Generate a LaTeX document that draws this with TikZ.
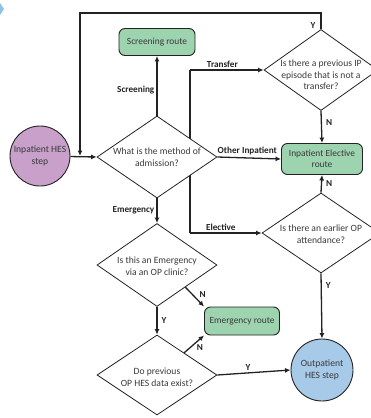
\documentclass[tikz,border=0pt]{standalone}
\usepackage{fontspec}
\setmainfont{Carlito}
\usepackage{tikz}
\usetikzlibrary{arrows.meta,positioning,calc,backgrounds,shapes.geometric}
\usepackage{xcolor}
\definecolor{routegreen}{HTML}{9DD3AE}
\definecolor{ipurple}{HTML}{C8A0CA}
\definecolor{opblue}{HTML}{A6CAE7}
\definecolor{edgegrey}{HTML}{222222}
\definecolor{txtgrey}{HTML}{3A3A3A}
\definecolor{cornerblue}{HTML}{8FC2E6}
\tikzset{
  decision/.style={diamond,draw=edgegrey,fill=white,inner sep=0pt,
    minimum width=120pt,minimum height=82pt,line width=0.8pt},
  qtext/.style={text=txtgrey,align=center,inner sep=0pt,
    font=\fontsize{9.6}{11.5}\selectfont},
  routebox/.style={rectangle,rounded corners=6pt,draw=edgegrey,fill=routegreen,
    text=txtgrey,align=center,inner sep=1pt,font=\fontsize{9.4}{11}\selectfont,
    line width=0.9pt},
  hesstep/.style={circle,draw=edgegrey,text=txtgrey,align=center,inner sep=0pt,
    font=\fontsize{9.6}{11.5}\selectfont,line width=0.9pt},
  flow/.style={-{Latex[length=5.5pt,width=5pt]},line width=1.3pt,color=edgegrey},
  flowline/.style={line width=1.3pt,color=edgegrey},
  lbl/.style={font=\fontsize{9.2}{10}\selectfont\bfseries,text=edgegrey,inner sep=2pt},
}

\begin{document}
\begin{tikzpicture}[x=1pt,y=-1pt]
  \useasboundingbox (0,0) rectangle (371,418);
  \fill[cornerblue] (0,3) -- (4,9) -- (0,15) -- cycle;

  \node[hesstep,fill=ipurple,minimum size=60pt] (ipstep) at (40,156) {Inpatient HES\\step};
  \node[decision,label={[qtext]center:{What is the method of\\admission?}}] (admit) at (157,157) {};
  \node[routebox,minimum width=76pt,minimum height=27pt] (screen) at (157,42) {Screening route};
  \node[decision,minimum width=114pt,minimum height=81pt,
    label={[qtext,yshift=-5pt]center:{Is there a previous IP\\episode that is not a\\transfer?}}]
    (transfer) at (321,70) {};
  \node[routebox,minimum width=81pt,minimum height=31pt] (ipelec) at (322,159)
    {Inpatient Elective\\route};
  \node[decision,minimum width=118pt,minimum height=80pt,
    label={[qtext,yshift=-1pt]center:{Is there an earlier OP\\attendance?}}] (elective) at (321,233) {};
  \node[decision,minimum height=83pt,
    label={[qtext,yshift=-1pt]center:{Is this an Emergency\\via an OP clinic?}}] (emerg) at (157,265) {};
  \node[decision,minimum height=80pt,
    label={[qtext,yshift=-2pt]center:{Do previous\\OP HES data exist?}}] (doprev) at (157,375) {};
  \node[routebox,minimum width=75pt,minimum height=28pt] (emroute) at (242,321) {Emergency route};
  \node[hesstep,fill=opblue,minimum size=62pt] (opstep) at (322,370) {Outpatient\\HES step};

  \coordinate (loopTR) at (321,13);
  \coordinate (loopTL) at (80,13);
  \coordinate (loopin) at (80,156);
  \coordinate (tjoin) at (190,70);
  \coordinate (ejoin) at (190,233);
  \coordinate (emN) at ($(emerg.east)!0.53!(emerg.south)$);
  \coordinate (dpN) at ($(doprev.north)!0.45!(doprev.east)$);

  \begin{scope}[on background layer]
    \draw[flowline] (tjoin) -- (ejoin);
  \end{scope}

  \draw[flow] (ipstep) -- (admit.west);
  \draw[flow] (transfer.north) -- node[lbl,left,pos=0.25,xshift=-3pt]{Y} (loopTR) -- (loopTL) -- (loopin);
  \draw[flow] (admit.north) -- node[lbl,left,pos=0.43]{Screening} (screen.south);
  \draw[flow] (tjoin) -- node[lbl,above,pos=0.44]{Transfer} (transfer.west);
  \draw[flow] (admit.east) -- node[lbl,above,pos=0.47]{Other Inpatient} (ipelec.west);
  \draw[flow] (ejoin) -- node[lbl,above,pos=0.43]{Elective} (elective.west);
  \draw[flow] (admit.south) -- node[lbl,left]{Emergency} (emerg.north);
  \draw[flow] (transfer.south) -- node[lbl,right,pos=0.35,xshift=2pt]{N} (ipelec.north);
  \draw[flow] (elective.north) -- node[lbl,right,xshift=2pt]{N} (ipelec.south);
  \draw[flow] (elective.south) -- node[lbl,right,pos=0.18,xshift=2pt]{Y} (opstep.north);
  \draw[flow] (emerg.south) -- node[lbl,right,xshift=2pt]{Y} (doprev.north);
  \draw[flow] (emN) -- node[lbl,right,pos=0.4,xshift=4pt]{N} (emroute.north west);
  \draw[flow] (dpN) -- node[lbl,right,pos=0.3,xshift=4pt]{N} (emroute.south west);
  \draw[flow] (doprev.east) -- node[lbl,above,pos=0.42]{Y} (opstep.west);
\end{tikzpicture}
\end{document}
